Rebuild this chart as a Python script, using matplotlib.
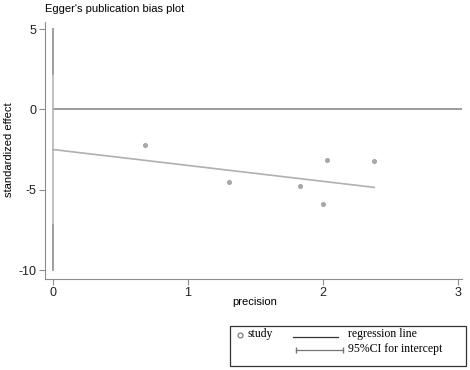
import matplotlib
matplotlib.use("Agg")
import matplotlib.pyplot as plt
from matplotlib.lines import Line2D
from matplotlib.patches import Rectangle

plt.rcParams["font.family"] = ["Liberation Sans", "DejaVu Sans"]
plt.rcParams["axes.unicode_minus"] = False

# ==== data ====
precision = [0.68, 1.30, 1.83, 2.00, 2.03, 2.38]
std_effect = [-2.20, -4.50, -4.75, -5.87, -3.15, -3.22]
intercept = -2.50
slope = -0.99
ci_low, ci_high = -10.0, 5.0
x_ticks = [0, 1, 2, 3]
y_ticks = [-10, -5, 0, 5]

W, H = 470, 370
fig = plt.figure(figsize=(W / 100, H / 100), dpi=100)
ax = fig.add_axes([45 / W, 1 - 279 / H, (462 - 45) / W, (279 - 22) / H])

grey = "#8c8c8c"
ax.axhline(0, xmin=(0 - -0.06) / 3.09, color="#8a8a8a", lw=1.2)
ax.plot([0, 0], [ci_low, ci_high], color="#b5b5b5", lw=1.2)
ax.plot([0, 0], [ci_low, -7.2], color="#9a9a9a", lw=1.2)
ax.plot([0, 0], [2.2, ci_high], color="#9a9a9a", lw=1.2)
x_end = max(precision)
ax.plot([0, x_end], [intercept, intercept + slope * x_end], color="#b0b0b0", lw=1.2)
ax.scatter(precision, std_effect, s=7, color="#a8a8a8", zorder=3)

ax.set_xlim(-0.06, 3.03)
ax.set_ylim(-10.56, 5.44)
ax.set_xticks(x_ticks)
ax.set_yticks(y_ticks)
for s in ["top", "right"]:
    ax.spines[s].set_visible(False)
for s in ["left", "bottom"]:
    ax.spines[s].set_color(grey)
ax.tick_params(colors="#222222", labelsize=9, length=4, width=0.8, pad=2)
ax.tick_params(axis="both", color=grey)

# ==== labels ====
def fx(px):
    return px / W

def fy(py):
    return 1 - py / H

fig.text(fx(255), fy(302), "precision", fontsize=8, ha="center", va="center")
fig.text(fx(9), fy(150), "standardized effect", fontsize=8, rotation=90, ha="center", va="center")
fig.text(fx(45), fy(9), "Egger's publication bias plot", fontsize=8, va="center")

# ==== legend box ====
fig.patches.append(Rectangle((fx(230), fy(366)), fx(466) - fx(230), fy(326) - fy(366),
                             transform=fig.transFigure, fill=False, edgecolor="#333333", lw=0.9))
serif = {"family": "Liberation Serif", "size": 8.5}
fig.lines.append(Line2D([fx(240)], [fy(335)], marker="o", mfc="none", mec="#888888", ms=3.5,
                        transform=fig.transFigure))
fig.text(fx(248), fy(334), "study", va="center", fontdict=serif)
fig.lines.append(Line2D([fx(293), fx(338)], [fy(337), fy(337)], color="#333333", lw=0.9,
                        transform=fig.transFigure))
fig.text(fx(348), fy(334), "regression line", va="center", fontdict=serif)
fig.lines.append(Line2D([fx(296), fx(343)], [fy(350), fy(350)], color="#777777", lw=0.9,
                        marker="|", ms=5, mec="#777777", transform=fig.transFigure))
fig.text(fx(348), fy(349), "95%CI for intercept", va="center", fontdict=serif)

fig.savefig("out.png", dpi=100)
